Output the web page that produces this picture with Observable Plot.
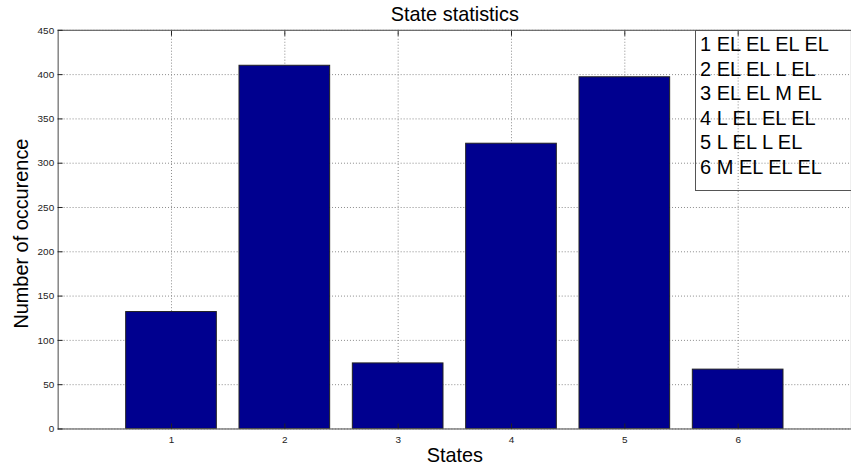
<!DOCTYPE html>
<html>
<head>
<meta charset="utf-8">
<script src="https://cdn.jsdelivr.net/npm/d3@7"></script>
<script src="https://cdn.jsdelivr.net/npm/@observablehq/plot@0.6"></script>
<style>
  html, body { margin: 0; padding: 0; background: #fff; }
  #wrap { position: relative; width: 851px; height: 472px; overflow: hidden; font-family: Arial, "Liberation Sans", sans-serif; }
  #legend { position: absolute; left: 695px; top: 30px; width: 170px; height: 161px; border: 1px solid #555; box-sizing: border-box;
    font-size: 20px; line-height: 24.5px; padding: 1px 0 0 4px; color: #000; white-space: pre; }
</style>
</head>
<body>
<div id="wrap"><div id="chart"></div><div id="legend"></div></div>
<script>
const states = [1, 2, 3, 4, 5, 6];
const counts = [132, 410, 74, 322, 397, 67];
const legendLines = ["1 EL EL EL EL", "2 EL EL L EL", "3 EL EL M EL", "4 L EL EL EL", "5 L EL L EL", "6 M EL EL EL"];
const yTicks = [0, 50, 100, 150, 200, 250, 300, 350, 400, 450];
const title = "State statistics";
const xLabel = "States";
const yLabel = "Number of occurence";

const data = states.map((s, i) => ({state: s, count: counts[i]}));
const barWidth = 0.8;

const chart = Plot.plot({
  width: 856,
  height: 472,
  marginTop: 30,
  marginBottom: 41,
  marginLeft: 58,
  marginRight: 0,
  style: {fontFamily: "Arial, 'Liberation Sans', sans-serif", background: "#fff", overflow: "visible"},
  x: {domain: [0, 7], ticks: states},
  y: {domain: [0, 450], ticks: yTicks},
  marks: [
    Plot.gridX(states, {stroke: "#8a8a8a", strokeOpacity: 1, strokeDasharray: "1,2"}),
    Plot.gridY(yTicks, {stroke: "#8a8a8a", strokeOpacity: 1, strokeDasharray: "1,2"}),
    Plot.rectY(data, {x1: d => d.state - barWidth / 2, x2: d => d.state + barWidth / 2, y: "count", fill: "#00008f", stroke: "#222", strokeWidth: 1}),
    Plot.frame({stroke: "#666", strokeWidth: 1.2}),
    Plot.axisY(yTicks, {anchor: "left", tickSize: -5, tickPadding: 9, fontSize: 10, color: "#222", label: null}),
    Plot.axisX(states, {anchor: "bottom", tickSize: -5, tickPadding: 12, fontSize: 10, color: "#222", label: null, tickFormat: d => String(d)}),
    Plot.axisX(states, {anchor: "top", tickSize: -5, tickFormat: () => "", label: null, color: "#222"}),
    Plot.text([title], {frameAnchor: "top", dy: -16, lineAnchor: "middle", fontSize: 20, fill: "#000"}),
    Plot.text([xLabel], {frameAnchor: "bottom", dy: 27, lineAnchor: "middle", fontSize: 20, fill: "#000"}),
    Plot.text([yLabel], {frameAnchor: "left", dx: -37, dy: 4, rotate: -90, textAnchor: "middle", lineAnchor: "middle", fontSize: 20, fill: "#000"})
  ]
});
document.getElementById("chart").appendChild(chart);
document.getElementById("legend").textContent = legendLines.join("\n");
</script>
</body>
</html>
